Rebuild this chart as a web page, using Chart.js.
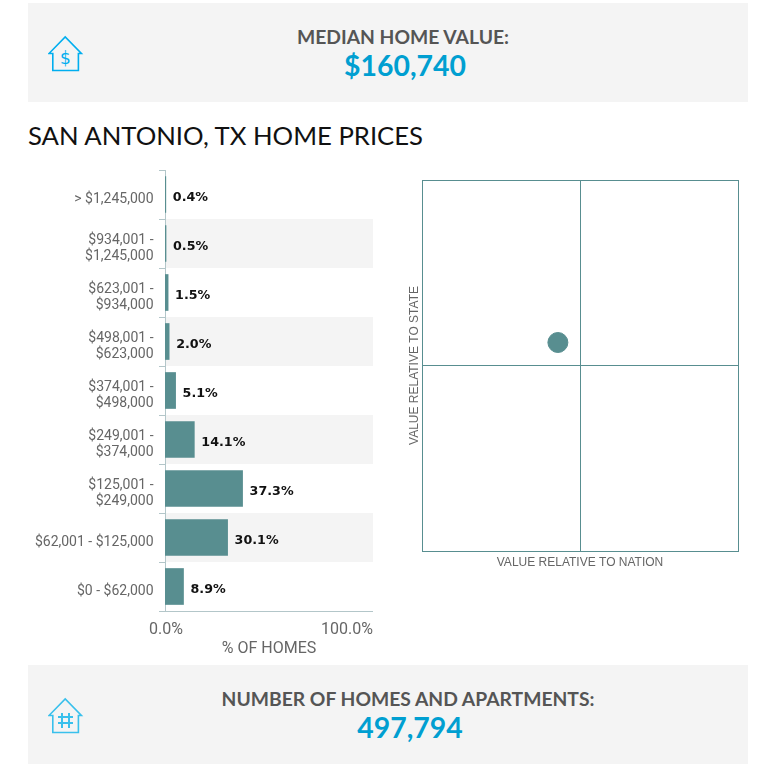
<!DOCTYPE html>
<html>
<head>
<meta charset="utf-8">
<title>San Antonio, TX Home Prices</title>
<script src="https://cdn.jsdelivr.net/npm/chart.js@4"></script>
<style>
  html, body { margin: 0; padding: 0; background: #fff; overflow: hidden; }
  body { width: 760px; height: 776px; position: relative; font-family: Lato, sans-serif; }
  .panel { position: absolute; left: 28px; width: 720px; height: 99px; background: #f4f4f4; }
  .panel svg { position: absolute; left: 20px; top: 32px; }
  .panel .txt { position: absolute; top: 0; text-align: center; width: 600px; }
  .panel .lab { position: absolute; top: 22px; width: 100%; font-size: 19.3px; line-height: 24px; font-weight: 700; color: #555; }
  .panel .val { position: absolute; top: 44px; left: 2px; width: 100%; font-size: 28.4px; line-height: 36px; font-weight: 700; color: #009fd1; }
  h2 { position: absolute; left: 28px; top: 119px; margin: 0; font-size: 25.7px; line-height: 32px; font-weight: 400; color: #111; }
  canvas { position: absolute; }
</style>
</head>
<body>
<div class="panel" style="top:3px">
  <svg width="36" height="38" viewBox="0 0 36 38" fill="none" stroke="#00aeef" stroke-width="1.6">
    <path d="M4.8 18.5H1L17.2 2L33.4 18.5H30.4V35.5H4.8Z"/>
    <text x="17.5" y="28.5" font-family="DejaVu Sans" font-size="17" text-anchor="middle" fill="#00aeef" stroke="none">$</text>
  </svg>
  <div class="txt" style="left:75px">
    <div class="lab">MEDIAN HOME VALUE:</div>
    <div class="val">$160,740</div>
  </div>
</div>
<h2>SAN ANTONIO, TX HOME PRICES</h2>
<canvas id="priceBars" width="400" height="500" style="left:0;top:170px"></canvas>
<canvas id="quadrant" width="350" height="410" style="left:400px;top:170px"></canvas>
<div class="panel" style="top:665px">
  <svg width="36" height="38" viewBox="0 0 36 38" fill="none" stroke="#39c0ec" stroke-width="1.6">
    <path d="M4.8 18.5H1L17.2 2L33.4 18.5H30.4V35.5H4.8Z"/>
    <path d="M14 16V31M21 16V31M10 20H25M10 26H25" stroke-width="2"/>
  </svg>
  <div class="txt" style="left:80px">
    <div class="lab">NUMBER OF HOMES AND APARTMENTS:</div>
    <div class="val">497,794</div>
  </div>
</div>

<script>
const priceRanges = [
  '> $1,245,000',
  ['$934,001 -', '$1,245,000'],
  ['$623,001 -', '$934,000'],
  ['$498,001 -', '$623,000'],
  ['$374,001 -', '$498,000'],
  ['$249,001 -', '$374,000'],
  ['$125,001 -', '$249,000'],
  '$62,001 - $125,000',
  '$0 - $62,000',
];
const homeShares = [0.4, 0.5, 1.5, 2.0, 5.1, 14.1, 37.3, 30.1, 8.9];
const shareTicks = [0, 100];
const relativeToNation = [43];
const relativeToState = [56.2];

const TEAL = '#588e90';
const AXIS = '#b3c6c9';

// grey bands behind every other row, value labels, x tick labels and the base line
const barExtras = {
  id: 'barExtras',
  beforeDatasetsDraw(chart) {
    const { ctx, chartArea, scales } = chart;
    ctx.save();
    ctx.fillStyle = '#f4f4f4';
    priceRanges.forEach((r, i) => {
      if (i % 2 == 0) return;
      const c = scales.y.getPixelForValue(i);
      const h = scales.y.getPixelForValue(1) - scales.y.getPixelForValue(0);
      ctx.fillRect(chartArea.left + 1, c - h / 2, chartArea.width - 1, h);
    });
    ctx.restore();
  },
  afterDraw(chart) {
    const { ctx, chartArea, scales } = chart;
    ctx.save();
    ctx.strokeStyle = AXIS;
    ctx.beginPath();
    ctx.moveTo(chartArea.left - 6, chartArea.bottom + 0.5);
    ctx.lineTo(chartArea.right, chartArea.bottom + 0.5);
    ctx.stroke();

    ctx.textBaseline = 'middle';
    ctx.font = 'bold 12.7px "DejaVu Sans"';
    ctx.fillStyle = '#111';
    ctx.textAlign = 'left';
    chart.getDatasetMeta(0).data.forEach((bar, i) => {
      ctx.fillText(homeShares[i].toFixed(1) + '%', bar.x + 7, bar.y + 3);
    });
    // first label centred on its tick, last one pulled inside the plot
    ctx.font = '16px Roboto';
    ctx.fillStyle = '#666';
    const y = chartArea.bottom + 19;
    ctx.textAlign = 'center';
    ctx.fillText(shareTicks[0].toFixed(1) + '%', scales.x.getPixelForValue(shareTicks[0]) + 1, y);
    ctx.textAlign = 'right';
    ctx.fillText(shareTicks[1].toFixed(1) + '%', scales.x.getPixelForValue(shareTicks[1]), y);
    ctx.restore();
  },
};

new Chart(document.getElementById('priceBars'), {
  type: 'bar',
  data: {
    labels: priceRanges,
    datasets: [{ data: homeShares, backgroundColor: TEAL, barThickness: 36 }],
  },
  plugins: [barExtras],
  options: {
    indexAxis: 'y',
    responsive: false,
    animation: false,
    layout: { autoPadding: false, padding: { top: 0, right: 27, bottom: 0, left: 0 } },
    plugins: { legend: { display: false }, tooltip: { enabled: false } },
    scales: {
      x: {
        min: 0,
        max: 100,
        afterFit(scale) { scale.height = 500 - 441; },
        afterBuildTicks(scale) { scale.ticks = shareTicks.map((v) => ({ value: v })); },
        grid: { display: false },
        border: { display: false },
        ticks: { display: false },
        title: {
          display: true,
          text: '% OF HOMES',
          color: '#666',
          font: { family: 'Roboto', size: 16 },
          padding: { top: 0, bottom: 11 },
        },
      },
      y: {
        afterFit(scale) {
          scale.width = 165;
          // the wrapped labels would otherwise push the plot down
          scale.paddingTop = 0;
          scale.paddingBottom = 0;
        },
        grid: { drawOnChartArea: false, color: AXIS, tickLength: 6, offset: true },
        border: { color: AXIS },
        ticks: {
          color: '#666',
          font: { family: 'Roboto', size: 14, lineHeight: 1.15 },
          padding: 5.5,
          labelOffset: 5,
          autoSkip: false,
        },
      },
    },
  },
});

new Chart(document.getElementById('quadrant'), {
  type: 'scatter',
  data: {
    datasets: [{
      data: relativeToNation.map((x, i) => ({ x: x, y: relativeToState[i] })),
      backgroundColor: TEAL,
      borderColor: TEAL,
      pointRadius: 10,
    }],
  },
  options: {
    responsive: false,
    animation: false,
    layout: { autoPadding: false, padding: { top: 10, right: 12, bottom: 0, left: 0 } },
    plugins: { legend: { display: false }, tooltip: { enabled: false } },
    scales: {
      x: {
        min: 0,
        max: 100,
        afterFit(scale) { scale.height = 410 - 381; },
        grid: { color: TEAL, tickLength: 0 },
        border: { color: TEAL },
        ticks: { display: false, stepSize: 50 },
        title: {
          display: true,
          text: 'VALUE RELATIVE TO NATION',
          color: '#666',
          font: { family: 'Liberation Sans', size: 12 },
          padding: { top: 0, bottom: 10 },
        },
      },
      y: {
        min: 0,
        max: 100,
        afterFit(scale) { scale.width = 22; },
        grid: { color: TEAL, tickLength: 0 },
        border: { color: TEAL },
        ticks: { display: false, stepSize: 50 },
        title: {
          display: true,
          text: 'VALUE RELATIVE TO STATE',
          color: '#666',
          font: { family: 'Liberation Sans', size: 12 },
          padding: { top: 7, bottom: 0 },
        },
      },
    },
  },
});
</script>
</body>
</html>
